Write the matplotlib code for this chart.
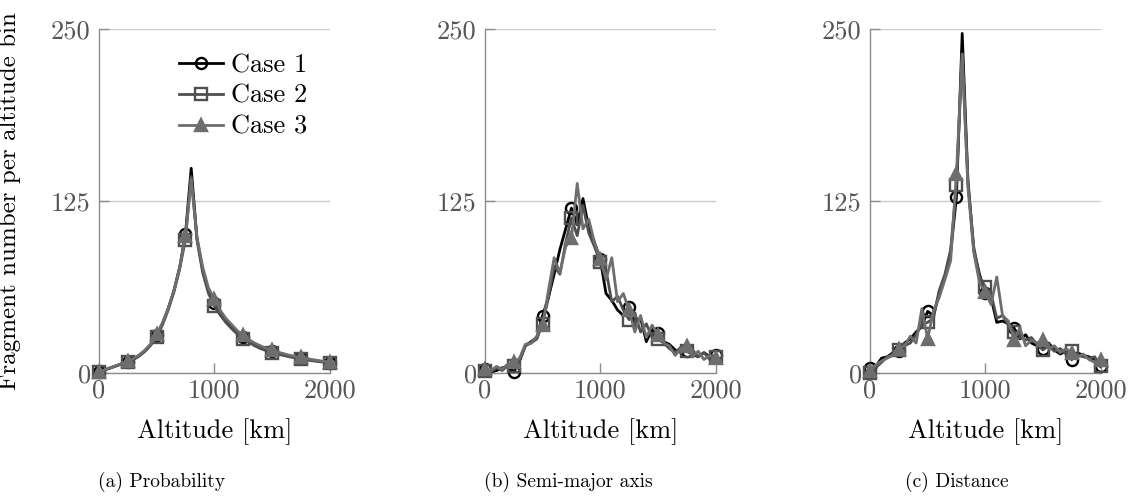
import matplotlib
matplotlib.use("Agg")
import matplotlib.pyplot as plt

plt.rcParams['font.family'] = 'serif'
plt.rcParams['font.serif'] = ['cmr10', 'DejaVu Serif']
plt.rcParams['axes.formatter.use_mathtext'] = True
plt.rcParams['mathtext.fontset'] = 'cm'

altitude = list(range(0, 2001, 50))

# (a) Probability
prob_case1 = [1, 2.5, 4, 5.5, 7, 8.5, 10.5, 13, 16.5, 21, 28, 36, 47, 60, 77, 101, 149, 98, 75, 60, 51,
              44, 38.5, 34, 30, 26.5, 23.5, 21, 19, 17.5, 16, 14.8, 13.7, 12.7, 11.8, 11, 10.2, 9.5, 8.9, 8.3, 7.8]
prob_case2 = [1, 2.4, 3.9, 5.3, 6.8, 8, 10, 12.5, 16, 20.5, 26.5, 35, 46, 59, 76, 97, 143, 97, 73, 58, 49,
              42.5, 37, 32.5, 28.5, 25, 22.5, 20, 18, 16.5, 15, 14, 13, 12, 11.2, 10.3, 9.7, 9.1, 8.6, 8.1, 7.6]
prob_case3 = [1, 2.6, 4.1, 5.6, 7.2, 8.8, 10.8, 13.4, 17, 21.5, 28.5, 36.5, 47, 60, 77, 100, 141, 99, 77, 62, 54,
              46, 40, 35.5, 31, 27.5, 24.5, 22, 20, 18.2, 16.8, 15.5, 14.3, 13.2, 12.3, 11.5, 10.7, 10, 9.3, 8.7, 8.1]

# (b) Semi-major axis
sma_case1 = [3, 1, 2, 4, 5, 1, 9, 20, 23, 26, 42, 55, 72, 90, 105, 120, 108, 127, 106, 95, 83,
             58, 53, 46, 42, 48, 37, 40, 23, 32, 29, 23, 21, 17, 15, 16, 14, 12, 15, 12, 13]
sma_case2 = [2, 1, 4, 2, 6, 5, 10, 20, 22, 25, 36, 55, 78, 72, 95, 113, 100, 122, 102, 92, 81,
             75, 52, 56, 46, 39, 44, 30, 36, 26, 25, 22, 18, 15, 19, 16, 17, 12, 15, 10, 12]
sma_case3 = [3, 2, 5, 3, 7, 8, 11, 21, 22, 27, 35, 60, 84, 73, 92, 98, 138, 105, 112, 95, 83,
             68, 84, 52, 58, 46, 30, 42, 26, 35, 28, 22, 20, 13, 18, 20, 12, 16, 10, 13, 11]

# (c) Distance
dist_case1 = [4, 5, 11, 12, 15, 16, 22, 25, 30, 34, 45, 42, 58, 70, 88, 128, 247, 140, 90, 72, 58,
              55, 37, 38, 36, 33, 25, 28, 22, 20, 18, 22, 17, 14, 16, 10, 15, 13, 12, 10, 5]
dist_case2 = [0, 4, 8, 12, 14, 17, 20, 22, 28, 36, 37, 40, 60, 72, 90, 137, 232, 138, 92, 70, 63,
              58, 40, 42, 35, 30, 28, 24, 26, 21, 17, 20, 16, 18, 14, 16, 13, 12, 11, 12, 5]
dist_case3 = [2, 6, 9, 11, 13, 18, 20, 27, 22, 47, 25, 45, 55, 68, 82, 145, 232, 135, 88, 66, 59,
              50, 70, 42, 38, 24, 33, 20, 24, 22, 24, 18, 20, 15, 18, 15, 12, 14, 10, 8, 10]

case_labels = ['Case 1', 'Case 2', 'Case 3']
captions = ['(a) Probability', '(b) Semi-major axis', '(c) Distance']
x_ticks = [0, 1000, 2000]
y_ticks = [0, 125, 250]

panels = [
    (prob_case1, prob_case2, prob_case3),
    (sma_case1, sma_case2, sma_case3),
    (dist_case1, dist_case2, dist_case3),
]

colors = ['#000000', '#4f4f4f', '#6e6e6e']
markers = ['o', 's', '^']
marker_faces = ['none', 'none', '#6e6e6e']

W, H = 1142, 499
fig = plt.figure(figsize=(W / 100, H / 100), dpi=100)

lefts = [99, 485, 870]
ax_w = 230.5
ax_bottom = 499 - 373.3
ax_h = 344
caption_x = [162, 568, 957]

fs = 19
for i, (left, series) in enumerate(zip(lefts, panels)):
    ax = fig.add_axes([left / W, ax_bottom / H, ax_w / W, ax_h / H])
    for j, ys in enumerate(series):
        ax.plot(altitude, ys, color=colors[j], lw=2.0, marker=markers[j], markevery=5,
                markersize=8, markerfacecolor=marker_faces[j], markeredgecolor=colors[j],
                markeredgewidth=1.7, label=case_labels[j], clip_on=False, zorder=3 + j * 0.1)
    ax.set_xlim(0, 2000)
    ax.set_ylim(0, 250)
    ax.set_xticks(x_ticks)
    ax.set_yticks(y_ticks)
    ax.set_xticklabels([str(t) for t in x_ticks])
    ax.set_yticklabels([str(t) for t in y_ticks])
    ax.yaxis.grid(True, color='#cccccc', lw=1.0)
    ax.set_axisbelow(True)
    for s in ['top', 'right']:
        ax.spines[s].set_visible(False)
    for s in ['left', 'bottom']:
        ax.spines[s].set_color('#8c8c8c')
        ax.spines[s].set_linewidth(1.0)
    ax.tick_params(direction='in', length=7, width=1.0, color='#8c8c8c', labelcolor='#555555',
                   labelsize=fs)
    ax.tick_params(axis='y', pad=6)
    ax.tick_params(axis='x', pad=4)
    ax.text(0.5, -0.171, 'Altitude [km]', transform=ax.transAxes, ha='center', va='center',
            fontsize=fs, color='black')
    if i == 0:
        ax.set_ylabel('Fragment number per altitude bin', fontsize=18)
        ax.yaxis.set_label_coords(-0.339, 0.5)
        leg = ax.legend(loc='upper left', bbox_to_anchor=(0.345, 0.93), frameon=False,
                        fontsize=fs, handlelength=1.7, handletextpad=0.3, labelspacing=0.27,
                        borderpad=0, borderaxespad=0)
    fig.text(caption_x[i] / W, (499 - 482) / H, captions[i], ha='center', va='center', fontsize=14)

fig.savefig('out.png', dpi=100)
